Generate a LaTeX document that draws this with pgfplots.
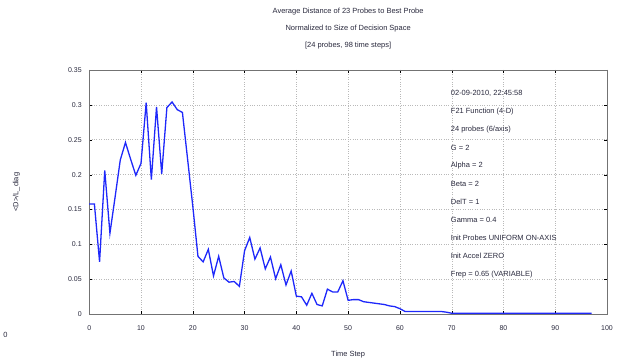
\documentclass[border=0pt]{standalone}
\usepackage{fontspec}
\setmainfont{Liberation Sans}
\usepackage{pgfplots}
\pgfplotsset{compat=1.18}
\definecolor{lineblue}{RGB}{30, 40, 250}
\definecolor{txt}{RGB}{40, 40, 60}

\begin{document}
\begin{tikzpicture}
  \begin{axis}[
      scale only axis,
      width=519pt, height=245pt,
      xmin=0, xmax=100,
      ymin=0, ymax=0.35,
      xtick={0,10,...,100},
      ytick={0,0.05,0.1,0.15,0.2,0.25,0.3,0.35},
      yticklabels={0,0.05,0.1,0.15,0.2,0.25,0.3,0.35},
      /pgf/number format/assume math mode=true,
      ticklabel style={font=\fontsize{7}{8}\selectfont, text=txt},
      xticklabel style={yshift=-8pt},
      yticklabel style={xshift=-4pt},
      tick align=inside,
      major tick length=3pt,
      tick style={black},
      axis line style={black!55},
      grid=major,
      grid style={dotted, gray!55, line width=0.4pt},
      clip=false,
    ]
    \addplot[color=lineblue, line width=1.3pt] coordinates {
      (0,0.158) (1,0.158) (2,0.075) (3,0.206) (4,0.116) (5,0.168)
      (6,0.221) (7,0.246) (8,0.222) (9,0.199) (10,0.216) (11,0.303)
      (12,0.193) (13,0.297) (14,0.201) (15,0.296) (16,0.304) (17,0.293)
      (18,0.289) (19,0.222) (20,0.155) (21,0.083) (22,0.075) (23,0.093)
      (24,0.055) (25,0.083) (26,0.052) (27,0.046) (28,0.047) (29,0.040)
      (30,0.091) (31,0.110) (32,0.079) (33,0.095) (34,0.065) (35,0.082)
      (36,0.051) (37,0.071) (38,0.042) (39,0.062) (40,0.026) (41,0.025)
      (42,0.013) (43,0.030) (44,0.014) (45,0.012) (46,0.036) (47,0.032)
      (48,0.032) (49,0.048) (50,0.020) (51,0.021) (52,0.021) (53,0.018)
      (54,0.017) (55,0.016) (56,0.015) (57,0.014) (58,0.012) (59,0.011)
      (60,0.008) (61,0.004) (62,0.004) (63,0.004) (64,0.004) (65,0.004)
      (66,0.004) (67,0.004) (68,0.004) (69,0.003) (70,0.0015) (75,0.0015)
      (80,0.0015) (85,0.0015) (90,0.0015) (95,0.0015) (97,0.0015)
    };
    % title
    \begin{scope}[every node/.style={font=\fontsize{7.5}{9}\selectfont, text=txt}]
      \node at ([yshift=58pt]rel axis cs:0.5,1) {Average Distance of 23 Probes to Best Probe};
      \node at ([yshift=41pt]rel axis cs:0.5,1) {Normalized to Size of Decision Space};
      \node at ([yshift=24pt]rel axis cs:0.5,1) {[24 probes, 98 time steps]};
      \node at ([yshift=-40pt]rel axis cs:0.5,0) {Time Step};
      \node[rotate=90] at ([xshift=-73pt]rel axis cs:0,0.5) {<D>/L\_diag};
      \node at ([xshift=-84pt,yshift=-21pt]rel axis cs:0,0) {0};
    \end{scope}
    % info box
    \begin{scope}[every node/.style={font=\fontsize{7.5}{9}\selectfont, text=txt, anchor=west}]
      \node at ([xshift=359pt,yshift=-24pt]rel axis cs:0,1) {02-09-2010, 22:45:58};
      \node at ([xshift=359pt,yshift=-42.1pt]rel axis cs:0,1) {F21 Function (4-D)};
      \node at ([xshift=359pt,yshift=-60.2pt]rel axis cs:0,1) {24 probes (6/axis)};
      \node at ([xshift=359pt,yshift=-78.3pt]rel axis cs:0,1) {G = 2};
      \node at ([xshift=359pt,yshift=-96.4pt]rel axis cs:0,1) {Alpha = 2};
      \node at ([xshift=359pt,yshift=-114.5pt]rel axis cs:0,1) {Beta = 2};
      \node at ([xshift=359pt,yshift=-132.6pt]rel axis cs:0,1) {DelT = 1};
      \node at ([xshift=359pt,yshift=-150.7pt]rel axis cs:0,1) {Gamma = 0.4};
      \node at ([xshift=359pt,yshift=-168.8pt]rel axis cs:0,1) {Init Probes UNIFORM ON-AXIS};
      \node at ([xshift=359pt,yshift=-186.9pt]rel axis cs:0,1) {Init Accel ZERO};
      \node at ([xshift=359pt,yshift=-205pt]rel axis cs:0,1) {Frep = 0.65 (VARIABLE)};
    \end{scope}
  \end{axis}
  \path ([xshift=-88pt,yshift=-47pt]current axis.south west)
    rectangle ([xshift=19pt,yshift=70pt]current axis.north east);
\end{tikzpicture}
\end{document}
